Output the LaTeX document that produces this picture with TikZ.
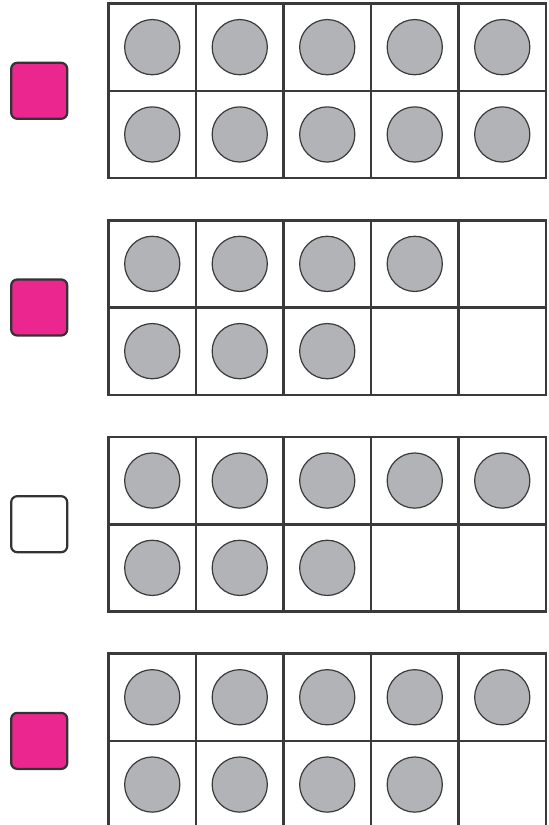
\documentclass[tikz,border=0pt]{standalone}
\usetikzlibrary{positioning}
\definecolor{counterpink}{RGB}{236,38,143}
\definecolor{dotgray}{RGB}{177,179,182}
\definecolor{linegray}{RGB}{58,58,58}
\tikzset{
	cell/.style={shape=rectangle, draw=linegray, line width=2.6pt, minimum width=87.5pt, minimum height=87.3pt, inner sep=0pt},
	dot/.style={shape=circle, draw=linegray, line width=1.2pt, fill=dotgray, minimum width=55.2pt, inner sep=0pt},
	counter/.style={shape=rectangle, rounded corners=6pt, draw=black!80, line width=2.2pt, minimum width=56pt, minimum height=56pt, inner sep=0pt}
}
\begin{document}
\begin{tikzpicture}[x=1pt, y=-1pt]
	% Page:
	\clip (0, 0) rectangle (549, 825);
	% Frames, counters and dots:
	\foreach \f/\top/\upper/\lower/\shade in {1/3.5/5/5/counterpink, 2/220.2/4/3/counterpink, 3/436.9/5/3/white, 4/653.6/5/4/counterpink}{
		\node[counter, fill=\shade](k\f) at (39.2, \top+87.3){};
		\foreach \c in {1,...,5}{
			\node[cell](f\f r1c\c) at ({108.5+87.5*(\c-0.5)}, {\top+43.65}){};
			\node[cell](f\f r2c\c) at ({108.5+87.5*(\c-0.5)}, {\top+130.95}){};
		}
		\foreach \c in {1,...,\upper} \node[dot](d\f r1c\c) at (f\f r1c\c){};
		\foreach \c in {1,...,\lower} \node[dot](d\f r2c\c) at (f\f r2c\c){};
	}
\end{tikzpicture}
\end{document}
